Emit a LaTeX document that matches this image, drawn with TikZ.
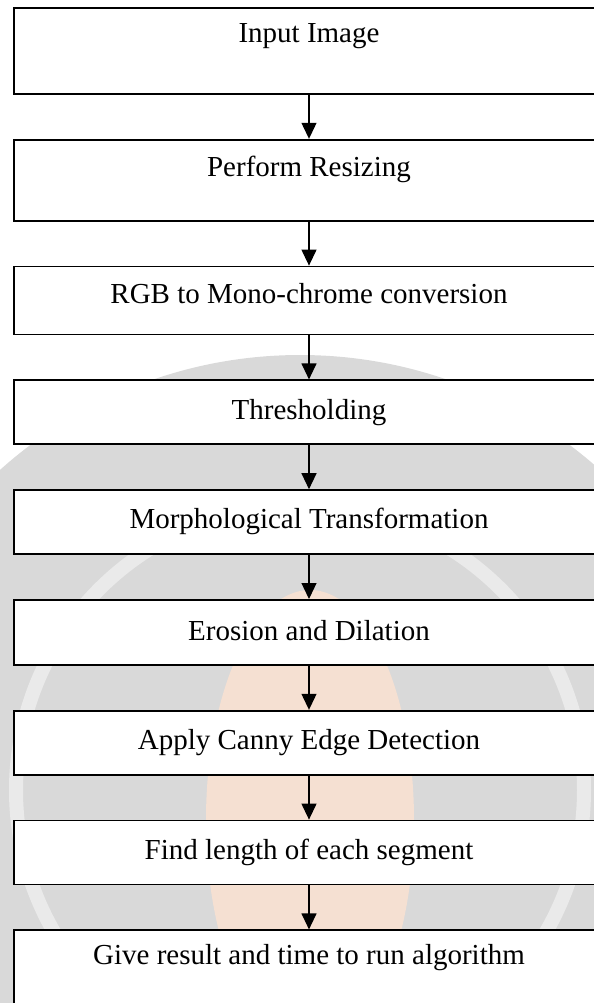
\documentclass[tikz,border=0pt]{standalone}
\usepackage{fontspec}
\setmainfont{Liberation Serif}
\usetikzlibrary{positioning,arrows.meta}

\definecolor{wmgray}{RGB}{217,217,217}
\definecolor{wmpeach}{RGB}{245,224,210}

\tikzset{
  stage/.style={draw, rectangle, fill=white, line width=0.9pt, minimum width=295pt,
    inner ysep=0pt, text height=19.5pt, text depth=12.5pt,
    font=\fontsize{14.5}{17}\selectfont},
  flow/.style={-{Triangle[length=8pt,width=7.5pt]}, line width=0.6pt}
}

\begin{document}
\begin{tikzpicture}[node distance=22pt]
        \useasboundingbox (0,0) rectangle (297pt,-501.5pt);
        % faded watermark behind the chart
        \begin{scope}
          \clip (0,0) rectangle (297pt,-501.5pt);
          \fill[wmgray] (150pt,-402pt) circle (224.5pt);
          \draw[white, opacity=0.45, line width=7pt] (150pt,-395pt) circle (142pt);
          \fill[wmpeach] (155pt,-410pt) ellipse (52pt and 115pt);
        \end{scope}
        \node[stage, anchor=north, text height=17.5pt, text depth=25.5pt] (input) at (154.5pt,-3.5pt) {Input Image};
        \node[stage, below=of input, text height=18.5pt, text depth=22pt] (resize) {Perform Resizing};
        \node[stage, below=of resize, text height=18.5pt, text depth=15.5pt] (mono) {RGB to Mono-chrome conversion};
        \node[stage, below=of mono] (thresh) {Thresholding};
        \node[stage, below=of thresh, text height=19pt, text depth=13pt] (morph) {Morphological Transformation};
        \node[stage, below=of morph, text height=20.5pt, text depth=12pt] (erode) {Erosion and Dilation};
        \node[stage, below=of erode] (canny) {Apply Canny Edge Detection};
        \node[stage, below=of canny] (length) {Find length of each segment};
        \node[stage, below=of length, text height=17pt, text depth=30pt] (result) {Give result and time to run algorithm};
        \draw[flow] (input) -- (resize);
        \draw[flow] (resize) -- (mono);
        \draw[flow] (mono) -- (thresh);
        \draw[flow] (thresh) -- (morph);
        \draw[flow] (morph) -- (erode);
        \draw[flow] (erode) -- (canny);
        \draw[flow] (canny) -- (length);
        \draw[flow] (length) -- (result);
    \end{tikzpicture}
\end{document}
